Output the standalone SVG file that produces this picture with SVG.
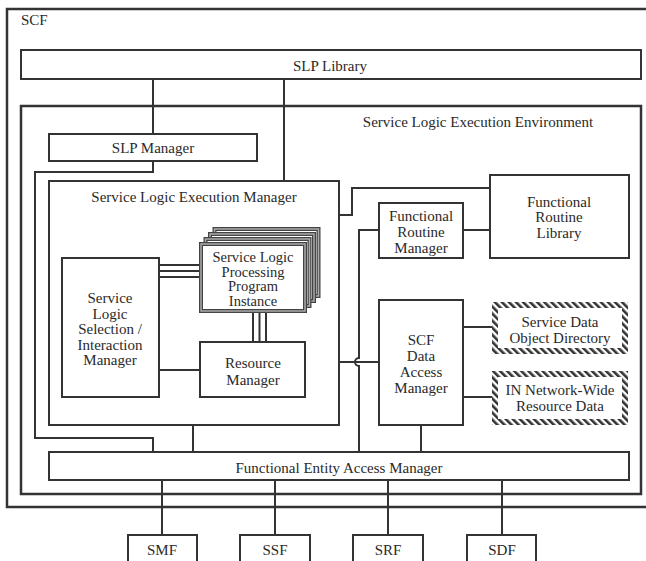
<svg xmlns="http://www.w3.org/2000/svg" width="646" height="561" viewBox="0 0 646 561">
  <style>
    .box { fill: #fff; stroke: #333; stroke-width: 2; }
    .frame { fill: none; stroke: #333; stroke-width: 2.5; }
    .wire { fill: none; stroke: #333; stroke-width: 2; }
    .stackOuter { fill: #fff; stroke: #444; stroke-width: 4; }
    .stackInner { fill: none; stroke: #aaa; stroke-width: 1.5; }
    .hatch { fill: #fff; stroke: url(#stripes); stroke-width: 6; }
    text { font-family: "Liberation Serif", "Times New Roman", serif; font-size: 15px; fill: #2a2a2a; text-anchor: middle; }
    .left { text-anchor: start; }
    .tight { font-size: 14.5px; }
  </style>
  <defs>
    <pattern id="stripes" patternUnits="userSpaceOnUse" width="5" height="5" patternTransform="rotate(-45)">
      <rect x="0" y="0" width="2.6" height="5" fill="#333"/>
    </pattern>
  </defs>

  <rect width="646" height="561" fill="#fff"/>

  <!-- SCF outer frame (runs off the right edge) -->
  <g id="scf">
    <rect class="frame" x="7" y="9" width="660" height="498"/>
    <text class="left" x="21" y="25">SCF</text>
  </g>

  <!-- Service Logic Execution Environment -->
  <g id="slee">
    <rect class="frame" x="21" y="106" width="620" height="388"/>
    <text x="478" y="127">Service Logic Execution Environment</text>
  </g>

  <!-- Service Logic Execution Manager container, drawn under its inner wiring -->
  <g id="slem">
    <rect class="box" x="49" y="181" width="290" height="244"/>
    <text x="194" y="202">Service Logic Execution Manager</text>
  </g>

  <!-- connectors -->
  <g id="connectors">
    <!-- SLP Library to SLP Manager and SLEM -->
    <path class="wire" d="M153 79 V134"/>
    <path class="wire" d="M284 79 V181"/>
    <!-- SLP Manager down the left side to FEAM -->
    <path class="wire" d="M153 161 V172 H35 V438 H153 V452"/>
    <!-- SLEM to FEAM -->
    <path class="wire" d="M193 425 V452"/>
    <!-- SLEM to Functional Routine Library -->
    <path class="wire" d="M339 215 H352 V188 H490"/>
    <!-- FRM to FRL -->
    <path class="wire" d="M463 230 H490"/>
    <!-- FRM bus down to FEAM, hopping the SLEM-DAM line -->
    <path class="wire" d="M379 230 H359 V358 A4 4 0 0 0 359 366 V452"/>
    <!-- SLEM to SCF Data Access Manager -->
    <path class="wire" d="M339 362 H379"/>
    <!-- DAM to data stores and FEAM -->
    <path class="wire" d="M463 327 H492"/>
    <path class="wire" d="M463 397 H492"/>
    <path class="wire" d="M421 425 V452"/>
    <!-- SLSI to SLPPI (triple) -->
    <path class="wire" d="M159 265 H201 M159 271 H201 M159 277 H201"/>
    <!-- SLPPI to Resource Manager (triple) -->
    <path class="wire" d="M253 311 V342 M259.5 311 V342 M266 311 V342"/>
    <!-- SLSI to Resource Manager -->
    <path class="wire" d="M159 370 H200"/>
    <!-- FEAM to external functions -->
    <path class="wire" d="M162 480 V535"/>
    <path class="wire" d="M275 480 V535"/>
    <path class="wire" d="M388 480 V535"/>
    <path class="wire" d="M502 480 V535"/>
  </g>

  <g id="slp-library">
    <rect class="box" x="21" y="50" width="620" height="29"/>
    <text x="330" y="71">SLP Library</text>
  </g>

  <g id="slp-manager">
    <rect class="box" x="49" y="134" width="208" height="27"/>
    <text x="153" y="153">SLP  Manager</text>
  </g>

  <g id="slsi-manager">
    <rect class="box" x="62" y="258" width="97" height="139"/>
    <text x="110" y="303">Service</text>
    <text x="110" y="318.5">Logic</text>
    <text x="110" y="334">Selection /</text>
    <text x="110" y="349.5">Interaction</text>
    <text x="110" y="365">Manager</text>
  </g>

  <g id="slppi">
    <rect class="stackOuter" x="214.5" y="229" width="104" height="67"/>
    <rect class="stackInner" x="214.5" y="229" width="104" height="67"/>
    <rect class="stackOuter" x="210" y="234" width="104" height="67"/>
    <rect class="stackInner" x="210" y="234" width="104" height="67"/>
    <rect class="stackOuter" x="205.5" y="239" width="104" height="67"/>
    <rect class="stackInner" x="205.5" y="239" width="104" height="67"/>
    <rect class="stackOuter" x="201" y="244" width="104" height="67"/>
    <rect class="stackInner" x="201" y="244" width="104" height="67"/>
    <text class="tight" x="253" y="262">Service Logic</text>
    <text class="tight" x="253" y="276.5">Processing</text>
    <text class="tight" x="253" y="291">Program</text>
    <text class="tight" x="253" y="305.5">Instance</text>
  </g>

  <g id="resource-manager">
    <rect class="box" x="200" y="342" width="105" height="55"/>
    <text x="253" y="368">Resource</text>
    <text x="253" y="385">Manager</text>
  </g>

  <g id="fr-manager">
    <rect class="box" x="379" y="203" width="84" height="55"/>
    <text x="421" y="221">Functional</text>
    <text x="421" y="237">Routine</text>
    <text x="421" y="253">Manager</text>
  </g>

  <g id="fr-library">
    <rect class="box" x="490" y="175" width="139" height="83"/>
    <text x="559" y="207">Functional</text>
    <text x="559" y="222">Routine</text>
    <text x="559" y="238">Library</text>
  </g>

  <g id="scf-dam">
    <rect class="box" x="379" y="300" width="84" height="125"/>
    <text x="421" y="345">SCF</text>
    <text x="421" y="361">Data</text>
    <text x="421" y="377">Access</text>
    <text x="421" y="393">Manager</text>
  </g>

  <g id="sdod">
    <rect class="hatch" x="495" y="305" width="130" height="46"/>
    <text x="560" y="327">Service Data</text>
    <text x="560" y="343">Object Directory</text>
  </g>

  <g id="in-resource-data">
    <rect class="hatch" x="495" y="374" width="130" height="48"/>
    <text x="560" y="395">IN Network-Wide</text>
    <text x="560" y="411">Resource Data</text>
  </g>

  <g id="feam">
    <rect class="box" x="49" y="452" width="580" height="28"/>
    <text x="339" y="473">Functional Entity Access Manager</text>
  </g>

  <g id="smf">
    <rect class="box" x="128" y="535" width="69" height="40"/>
    <text x="162" y="555">SMF</text>
  </g>
  <g id="ssf">
    <rect class="box" x="240" y="535" width="70" height="40"/>
    <text x="275" y="555">SSF</text>
  </g>
  <g id="srf">
    <rect class="box" x="353" y="535" width="70" height="40"/>
    <text x="388" y="555">SRF</text>
  </g>
  <g id="sdf">
    <rect class="box" x="467" y="535" width="69" height="40"/>
    <text x="502" y="555">SDF</text>
  </g>
</svg>
